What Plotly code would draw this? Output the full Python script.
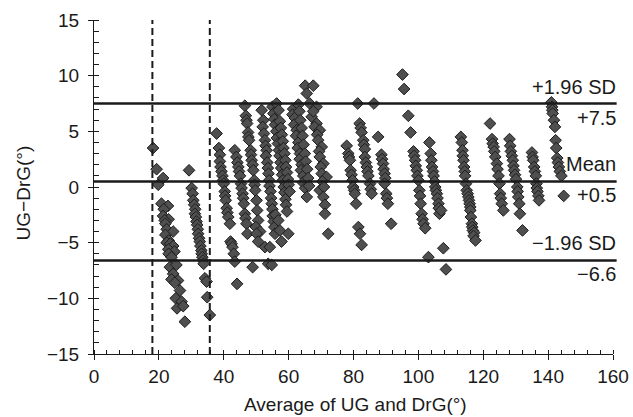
import plotly.graph_objects as go

# ---- data: (average, difference) pairs per column ----
grp_a = [(18.2, 3.5), (19.3, 1.6), (21.3, 0.8), (19.8, 0.2), (20.8, -1.5), (22.8, -1.7),
         (21.5, -2.0), (21.3, -2.6), (23.0, -2.9), (21.8, -3.0), (22.0, -3.3), (22.4, -3.8),
         (24.4, -4.0), (22.0, -4.3), (23.0, -4.8), (22.4, -5.0), (23.5, -5.1), (24.4, -5.3),
         (22.9, -5.6), (24.8, -5.8), (23.0, -6.0), (23.9, -6.3), (23.4, -7.2), (25.4, -7.0),
         (24.4, -7.8), (23.9, -8.3), (25.9, -8.4), (24.9, -8.6), (26.5, -9.3), (25.2, -10.0),
         (27.0, -10.3), (25.6, -10.9), (27.5, -10.7), (28.0, -12.1)]
grp_b = [(29.3, 1.5), (30.1, -0.1), (30.4, -0.6), (30.6, -1.2), (30.9, -1.6), (31.2, -2.0),
         (31.1, -2.4), (31.4, -2.7), (31.6, -3.1), (31.8, -3.4), (32.0, -3.8), (32.1, -4.2),
         (32.4, -4.6), (32.6, -4.9), (32.8, -5.3), (33.1, -5.7), (33.2, -6.0), (33.4, -6.3),
         (33.6, -6.6), (33.8, -6.9), (34.2, -8.2), (34.7, -8.5), (34.9, -9.9), (35.7, -11.5)]
grp_c = [(37.8, 4.8), (38.5, 3.5), (38.8, 2.9), (38.8, 2.3), (39.0, 1.8), (39.3, 1.4),
         (39.6, 1.0), (39.8, 0.6), (40.0, 0.3), (40.3, -0.4), (40.4, -0.8), (40.6, -1.2),
         (40.9, -1.9), (41.1, -2.3), (41.4, -2.7), (41.9, -3.3), (42.1, -4.9), (42.4, -5.1),
         (42.7, -5.4), (43.1, -6.0), (43.4, -6.7), (44.1, -8.7)]
grp_d = [(43.4, 3.3), (43.9, 2.7), (44.2, 2.2), (44.5, 1.8), (44.7, 1.4), (45.0, 1.0),
         (45.3, 0.3), (45.5, -0.1), (45.8, -0.6), (46.0, -1.0), (46.2, -1.5), (46.5, -2.4),
         (46.7, -2.8), (47.0, -3.3), (47.3, -4.2)]
grp_e = [(46.5, 7.3), (46.8, 6.4), (47.0, 6.0), (47.2, 5.7), (47.5, 4.9), (47.6, 4.5),
         (47.8, 4.2), (48.3, 3.3), (48.4, 2.9), (48.6, 2.4), (48.9, 2.0), (49.1, 1.5),
         (49.4, 0.6), (49.5, 0.2), (49.7, -0.3), (50.1, -1.2), (50.3, -2.1), (50.6, -3.0),
         (49.9, -3.6), (51.2, -4.0), (50.1, -4.2), (50.6, -4.9), (52.7, -5.4), (48.9, -7.2),
         (53.7, -6.9)]
grp_f1 = [(51.7, 6.9), (52.2, 6.0), (52.0, 5.4), (52.4, 4.8), (52.7, 4.2), (52.9, 3.7),
          (53.2, 3.3), (53.0, 2.8), (53.4, 2.2), (53.6, 1.7), (53.8, 1.2), (54.0, 0.6),
          (54.1, 0.1), (54.4, -0.4), (54.6, -1.0), (54.8, -1.5), (55.0, -2.0), (55.1, -2.6),
          (55.4, -3.1), (55.6, -3.6), (55.8, -4.2), (54.2, -5.4), (54.8, -7.0)]
grp_f2 = [(55.0, 7.2), (55.3, 6.6), (55.6, 6.1), (55.8, 5.6), (56.2, 5.0), (56.4, 4.4),
          (56.7, 3.9), (57.0, 3.3), (57.2, 2.8), (57.5, 2.2), (57.7, 1.7), (58.0, 1.1),
          (58.2, 0.6), (58.5, 0.0), (58.7, -0.5), (59.0, -1.1), (59.2, -1.6), (59.5, -2.2),
          (56.3, 7.5), (56.9, 6.9), (57.3, 5.9), (57.6, 5.3), (57.9, 4.7), (58.2, 4.1),
          (58.4, 3.5), (58.7, 3.0), (59.0, 2.4), (59.2, 1.8), (59.5, 1.3), (59.8, 0.7),
          (60.0, 0.2), (60.3, -0.4), (55.9, -2.5), (56.8, -3.0), (57.3, -3.9), (57.8, -4.9),
          (59.9, -4.2)]
grp_g = [(61.4, 7.0), (61.2, 6.5), (61.9, 6.2), (61.7, 5.6), (62.5, 5.1), (62.3, 4.6),
         (63.0, 4.0), (62.8, 3.5), (63.5, 3.0), (63.4, 2.5), (64.0, 2.0), (63.8, 1.5),
         (64.5, 1.0), (64.4, 0.4), (65.1, -0.1), (65.6, -0.9),
         (63.0, 7.4), (63.3, 6.8), (63.6, 6.0), (64.0, 5.3), (64.3, 4.6), (64.6, 3.8),
         (65.0, 3.0), (65.3, 2.3), (65.7, 1.6), (66.0, 0.8), (66.3, 0.1)]
grp_h = [(65.1, 9.1), (67.6, 9.1), (65.6, 8.4), (66.5, 7.5), (68.6, 7.2), (67.1, 6.3),
         (67.6, 6.8), (68.6, 5.7), (68.0, 5.4), (69.6, 5.1), (68.8, 4.7), (69.1, 4.2),
         (70.2, 3.6), (69.4, 3.2), (69.6, 2.7), (70.7, 2.1), (69.9, 1.8), (70.2, 1.2),
         (71.7, 0.9), (70.4, 0.5), (69.6, -0.3), (70.9, 0.0), (70.7, -0.9), (71.2, -1.6),
         (71.2, -2.4), (72.2, -4.2)]
grp_i = [(77.9, 3.7), (78.4, 3.0), (78.6, 2.7), (78.9, 2.4), (79.1, 1.5), (79.4, 1.1),
         (79.7, 0.6), (79.9, 0.0), (80.2, -0.3), (80.4, -0.6), (80.8, -1.5), (81.5, -3.6),
         (82.0, -4.2), (82.5, -5.2), (81.3, 7.5)]
grp_j = [(81.9, 5.7), (82.2, 5.3), (82.5, 4.9), (83.0, 4.2), (83.2, 3.8), (83.5, 3.4),
         (83.5, 2.7), (83.8, 2.2), (84.1, 1.8), (84.3, 1.4), (84.6, 1.0), (85.1, 0.3),
         (85.3, -0.2), (85.6, -0.6), (86.3, 7.5), (87.6, 4.5)]
grp_k = [(88.6, 2.9), (88.8, 2.5), (89.1, 2.1), (89.3, 1.6), (89.6, 1.2), (89.8, 0.8),
         (89.6, 0.3), (90.1, -0.6), (90.3, -1.0), (90.6, -1.5), (91.6, -3.3)]
grp_top = [(95.1, 10.1), (95.6, 8.8), (96.9, 6.4), (97.6, 4.9)]
grp_l = [(98.5, 3.2), (98.7, 2.8), (99.0, 2.4), (99.2, 1.9), (99.5, 1.5), (99.7, 1.0),
         (100.0, 0.6), (100.3, -0.3), (100.5, -0.8), (100.7, -1.5), (101.0, -2.4),
         (101.3, -2.9), (101.6, -3.3), (102.1, -3.7), (103.1, -6.3)]
grp_m = [(103.4, 4.0), (103.8, 3.0), (104.0, 2.4), (104.2, 1.8), (104.5, 1.4), (104.7, 1.0),
         (105.0, 0.5), (105.2, 0.0), (105.4, -0.3), (105.7, -0.6), (105.9, -1.0), (106.2, -1.5),
         (106.3, -1.9), (106.5, -2.4), (107.0, -2.1), (107.7, -5.5), (108.5, -7.4)]
grp_n = [(113.1, 4.5), (113.4, 4.0), (113.6, 3.3), (113.7, 2.8), (113.9, 2.4), (114.1, 1.8),
         (114.3, 1.4), (114.4, 1.0), (114.7, 0.3), (114.9, -0.3), (115.2, -0.6), (115.4, -0.9),
         (115.6, -1.2), (115.8, -1.5), (116.0, -1.8), (116.0, -2.1), (116.2, -2.7), (116.5, -3.3),
         (116.6, -3.6), (116.8, -3.9), (117.2, -4.1), (117.0, -4.4), (117.6, -4.8)]
grp_o = [(122.1, 5.7), (122.7, 4.3), (122.9, 3.9), (123.2, 3.6), (123.4, 3.2), (123.7, 2.7),
         (124.2, 2.1), (124.4, 1.6), (124.7, 1.0), (125.0, 0.3), (125.2, -0.6), (125.4, -1.0),
         (125.7, -1.5), (126.2, -2.1)]
grp_p = [(128.1, 4.3), (128.3, 3.7), (128.5, 3.2), (128.8, 2.8), (129.1, 2.4), (129.3, 1.9),
         (129.5, 1.5), (129.8, 1.1), (130.1, 0.7), (130.5, 0.0), (130.6, -0.4), (130.8, -0.9),
         (131.1, -1.5), (131.3, -2.4), (132.1, -3.9)]
grp_q = [(135.0, 3.1), (135.2, 2.7), (135.4, 2.4), (135.7, 1.8), (135.9, 1.4), (136.2, 1.0),
         (136.4, 0.3), (136.5, -0.1), (136.7, -0.4), (137.0, -0.8), (137.2, -1.2)]
grp_r = [(141.0, 7.6), (141.2, 7.2), (141.3, 6.9), (141.4, 6.6), (141.8, 6.0), (142.1, 5.4),
         (142.3, 4.2), (142.5, 3.5), (142.8, 2.6), (143.0, 2.2), (143.3, 1.8), (143.6, 1.4),
         (144.1, 1.0), (144.8, -0.8)]

groups = [grp_a, grp_b, grp_c, grp_d, grp_e, grp_f1, grp_f2, grp_g, grp_h, grp_i, grp_j,
          grp_k, grp_top, grp_l, grp_m, grp_n, grp_o, grp_p, grp_q, grp_r]

# reference lines
upper_loa = 7.5
mean_diff = 0.5
lower_loa = -6.6
dashed_x = [18.0, 35.7]

x_ticks = [0, 20, 40, 60, 80, 100, 120, 140, 160]
y_ticks = [-15, -10, -5, 0, 5, 10, 15]

avg = [p[0] for g in groups for p in g]
diff = [p[1] for g in groups for p in g]

FONT = "Liberation Sans, Arial, Helvetica, sans-serif"
INK = "#1a1a1a"

fig = go.Figure()
fig.add_trace(go.Scatter(
    x=avg, y=diff, mode="markers",
    marker=dict(symbol="diamond", size=9, color="#4f4f4f",
                line=dict(color="#1c1c1c", width=1)),
    hoverinfo="x+y"))
# helper trace so the overlay axes (inside half of the major ticks) are drawn
fig.add_trace(go.Scatter(x=[], y=[], xaxis="x2", yaxis="y2", showlegend=False))

# horizontal limit lines
for v in (upper_loa, mean_diff, lower_loa):
    fig.add_shape(type="line", xref="paper", yref="y", x0=0, x1=1.007, y0=v, y1=v,
                  line=dict(color=INK, width=2.4))
# dashed verticals
for xv in dashed_x:
    fig.add_shape(type="line", xref="x", yref="y", x0=xv, x1=xv, y0=y_ticks[0], y1=y_ticks[-1],
                  line=dict(color=INK, width=2, dash="7px,4px"))

lab = dict(xref="paper", yref="y", x=1, xanchor="right", xshift=5, showarrow=False,
           font=dict(family=FONT, size=20, color=INK))
fig.add_annotation(text="+1.96 SD", y=upper_loa, yanchor="bottom", yshift=4, **lab)
fig.add_annotation(text="+7.5", y=upper_loa, yanchor="top", yshift=-1, **lab)
fig.add_annotation(text="Mean", y=mean_diff, yanchor="bottom", yshift=4, **lab)
fig.add_annotation(text="+0.5", y=mean_diff, yanchor="top", yshift=-1, **lab)
fig.add_annotation(text="\u22121.96 SD", y=lower_loa, yanchor="bottom", yshift=4, **lab)
fig.add_annotation(text="\u22126.6", y=lower_loa, yanchor="top", yshift=-1, **lab)

# axis titles
fig.add_annotation(text="Average of UG and DrG(\u00b0)", xref="paper", yref="paper",
                   x=0.503, y=-0.152, xanchor="center", yanchor="middle", showarrow=False,
                   font=dict(family=FONT, size=19, color=INK))
fig.add_annotation(text="UG\u2212DrG(\u00b0)", xref="paper", yref="paper",
                   x=-0.136, y=0.482, xanchor="center", yanchor="middle", textangle=-90,
                   showarrow=False, font=dict(family=FONT, size=19, color=INK))

axis_common = dict(showgrid=False, zeroline=False, linecolor=INK, linewidth=1,
                   tickcolor=INK, tickwidth=1, automargin=False,
                   tickfont=dict(family=FONT, size=19, color=INK))

fig.update_layout(
    width=633, height=417,
    margin=dict(l=94, r=20, t=20, b=63),
    plot_bgcolor="white", paper_bgcolor="white",
    showlegend=False,
    font=dict(family=FONT, size=19, color=INK),
    xaxis=dict(range=[x_ticks[0], x_ticks[-1]], tickvals=x_ticks, ticks="outside", ticklen=5,
               showline=True, ticklabelstandoff=0,
               minor=dict(dtick=4, tick0=0, ticks="inside", ticklen=4, tickcolor=INK, tickwidth=1),
               **axis_common),
    yaxis=dict(range=[y_ticks[0], y_ticks[-1]], tickvals=y_ticks, ticks="outside", ticklen=5,
               showline=True, ticklabelstandoff=5,
               minor=dict(dtick=1, tick0=0, ticks="inside", ticklen=5, tickcolor=INK, tickwidth=1),
               **axis_common),
    xaxis2=dict(overlaying="x", anchor="y", side="bottom", range=[x_ticks[0], x_ticks[-1]],
                tickvals=x_ticks, ticks="inside", ticklen=4, showticklabels=False, automargin=False,
                showline=False, showgrid=False, zeroline=False, tickcolor=INK, tickwidth=1),
    yaxis2=dict(overlaying="y", anchor="x", side="left", range=[y_ticks[0], y_ticks[-1]],
                tickvals=y_ticks, ticks="inside", ticklen=5, showticklabels=False, automargin=False,
                showline=False, showgrid=False, zeroline=False, tickcolor=INK, tickwidth=1),
)

# remove the default page margin so the 633x417 figure fills the window exactly
fig.write_html("out.html", config={"displayModeBar": False},
               post_script="document.body.style.margin='0';document.body.style.overflow='hidden';")
